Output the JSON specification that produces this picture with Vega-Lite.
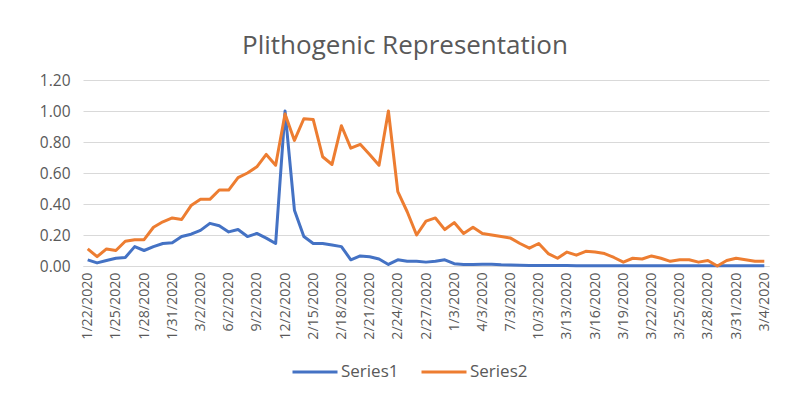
{
  "$schema": "https://vega.github.io/schema/vega-lite/v6.json",
  "width": 686,
  "height": 186,
  "autosize": {"type": "none"},
  "padding": {"left": 83, "top": 80, "right": 31, "bottom": 147},
  "background": "white",
  "title": {"text": "Plithogenic Representation", "fontSize": 26, "font": "Open Sans", "fontWeight": "normal", "color": "#595959", "offset": 14, "anchor": "middle", "dx": -21},
  "data": {"values": [
    {"date": "1/22/2020", "Series1": 0.04, "Series2": 0.11},
    {"date": "1/23/2020", "Series1": 0.02, "Series2": 0.06},
    {"date": "1/24/2020", "Series1": 0.035, "Series2": 0.11},
    {"date": "1/25/2020", "Series1": 0.05, "Series2": 0.10},
    {"date": "1/26/2020", "Series1": 0.055, "Series2": 0.16},
    {"date": "1/27/2020", "Series1": 0.125, "Series2": 0.17},
    {"date": "1/28/2020", "Series1": 0.10, "Series2": 0.17},
    {"date": "1/29/2020", "Series1": 0.125, "Series2": 0.25},
    {"date": "1/30/2020", "Series1": 0.145, "Series2": 0.285},
    {"date": "1/31/2020", "Series1": 0.15, "Series2": 0.31},
    {"date": "1/2/2020", "Series1": 0.19, "Series2": 0.30},
    {"date": "2/2/2020", "Series1": 0.205, "Series2": 0.39},
    {"date": "3/2/2020", "Series1": 0.23, "Series2": 0.43},
    {"date": "4/2/2020", "Series1": 0.275, "Series2": 0.43},
    {"date": "5/2/2020", "Series1": 0.26, "Series2": 0.49},
    {"date": "6/2/2020", "Series1": 0.22, "Series2": 0.49},
    {"date": "7/2/2020", "Series1": 0.235, "Series2": 0.57},
    {"date": "8/2/2020", "Series1": 0.19, "Series2": 0.60},
    {"date": "9/2/2020", "Series1": 0.21, "Series2": 0.64},
    {"date": "10/2/2020", "Series1": 0.18, "Series2": 0.72},
    {"date": "11/2/2020", "Series1": 0.145, "Series2": 0.65},
    {"date": "12/2/2020", "Series1": 1.00, "Series2": 0.98},
    {"date": "2/13/2020", "Series1": 0.36, "Series2": 0.81},
    {"date": "2/14/2020", "Series1": 0.19, "Series2": 0.95},
    {"date": "2/15/2020", "Series1": 0.145, "Series2": 0.945},
    {"date": "2/16/2020", "Series1": 0.145, "Series2": 0.705},
    {"date": "2/17/2020", "Series1": 0.135, "Series2": 0.655},
    {"date": "2/18/2020", "Series1": 0.125, "Series2": 0.905},
    {"date": "2/19/2020", "Series1": 0.04, "Series2": 0.76},
    {"date": "2/20/2020", "Series1": 0.065, "Series2": 0.785},
    {"date": "2/21/2020", "Series1": 0.06, "Series2": 0.72},
    {"date": "2/22/2020", "Series1": 0.045, "Series2": 0.65},
    {"date": "2/23/2020", "Series1": 0.01, "Series2": 1.00},
    {"date": "2/24/2020", "Series1": 0.04, "Series2": 0.48},
    {"date": "2/25/2020", "Series1": 0.03, "Series2": 0.35},
    {"date": "2/26/2020", "Series1": 0.03, "Series2": 0.20},
    {"date": "2/27/2020", "Series1": 0.025, "Series2": 0.29},
    {"date": "2/28/2020", "Series1": 0.03, "Series2": 0.31},
    {"date": "2/29/2020", "Series1": 0.04, "Series2": 0.235},
    {"date": "1/3/2020", "Series1": 0.015, "Series2": 0.28},
    {"date": "2/3/2020", "Series1": 0.01, "Series2": 0.21},
    {"date": "3/3/2020", "Series1": 0.01, "Series2": 0.25},
    {"date": "4/3/2020", "Series1": 0.012, "Series2": 0.21},
    {"date": "5/3/2020", "Series1": 0.012, "Series2": 0.20},
    {"date": "6/3/2020", "Series1": 0.008, "Series2": 0.19},
    {"date": "7/3/2020", "Series1": 0.006, "Series2": 0.18},
    {"date": "8/3/2020", "Series1": 0.005, "Series2": 0.145},
    {"date": "9/3/2020", "Series1": 0.004, "Series2": 0.115},
    {"date": "10/3/2020", "Series1": 0.004, "Series2": 0.145},
    {"date": "11/3/2020", "Series1": 0.003, "Series2": 0.08},
    {"date": "12/3/2020", "Series1": 0.003, "Series2": 0.05},
    {"date": "3/13/2020", "Series1": 0.003, "Series2": 0.09},
    {"date": "3/14/2020", "Series1": 0.002, "Series2": 0.07},
    {"date": "3/15/2020", "Series1": 0.002, "Series2": 0.095},
    {"date": "3/16/2020", "Series1": 0.002, "Series2": 0.09},
    {"date": "3/17/2020", "Series1": 0.002, "Series2": 0.08},
    {"date": "3/18/2020", "Series1": 0.002, "Series2": 0.055},
    {"date": "3/19/2020", "Series1": 0.002, "Series2": 0.025},
    {"date": "3/20/2020", "Series1": 0.001, "Series2": 0.05},
    {"date": "3/21/2020", "Series1": 0.001, "Series2": 0.045},
    {"date": "3/22/2020", "Series1": 0.001, "Series2": 0.065},
    {"date": "3/23/2020", "Series1": 0.001, "Series2": 0.05},
    {"date": "3/24/2020", "Series1": 0.001, "Series2": 0.03},
    {"date": "3/25/2020", "Series1": 0.001, "Series2": 0.04},
    {"date": "3/26/2020", "Series1": 0.001, "Series2": 0.04},
    {"date": "3/27/2020", "Series1": 0.001, "Series2": 0.025},
    {"date": "3/28/2020", "Series1": 0.001, "Series2": 0.035},
    {"date": "3/29/2020", "Series1": 0.001, "Series2": 0.0},
    {"date": "3/30/2020", "Series1": 0.001, "Series2": 0.035},
    {"date": "3/31/2020", "Series1": 0.001, "Series2": 0.05},
    {"date": "1/4/2020", "Series1": 0.001, "Series2": 0.04},
    {"date": "2/4/2020", "Series1": 0.001, "Series2": 0.03},
    {"date": "3/4/2020", "Series1": 0.001, "Series2": 0.03}
  ]},
  "transform": [{"fold": ["Series1", "Series2"], "as": ["series", "value"]}],
  "mark": {"type": "line", "strokeWidth": 3, "strokeJoin": "round"},
  "encoding": {
    "x": {
      "field": "date", "type": "nominal", "sort": null,
      "scale": {"type": "point", "padding": 0.5},
      "axis": {
        "title": null,
        "values": ["1/22/2020", "1/25/2020", "1/28/2020", "1/31/2020", "3/2/2020", "6/2/2020", "9/2/2020", "12/2/2020", "2/15/2020", "2/18/2020", "2/21/2020", "2/24/2020", "2/27/2020", "1/3/2020", "4/3/2020", "7/3/2020", "10/3/2020", "3/13/2020", "3/16/2020", "3/19/2020", "3/22/2020", "3/25/2020", "3/28/2020", "3/31/2020", "3/4/2020"],
        "labelAngle": -90, "labelFontSize": 14.2, "labelColor": "#595959", "labelFont": "Open Sans",
        "ticks": false, "domainColor": "#d9d9d9", "domainWidth": 1, "labelPadding": 6, "grid": false
      }
    },
    "y": {
      "field": "value", "type": "quantitative",
      "scale": {"domain": [0, 1.2], "nice": false},
      "axis": {
        "title": null, "values": [0, 0.2, 0.4, 0.6, 0.8, 1.0, 1.2], "format": ".2f",
        "labelFontSize": 15.5, "labelColor": "#595959", "labelFont": "Open Sans",
        "ticks": false, "domain": false, "gridColor": "#d9d9d9", "labelPadding": 13
      }
    },
    "color": {
      "field": "series", "type": "nominal",
      "scale": {"domain": ["Series1", "Series2"], "range": ["#4472C4", "#ED7D31"]},
      "legend": {
        "title": null, "orient": "none", "legendX": 208, "legendY": 268, "direction": "horizontal",
        "symbolType": "stroke", "symbolStrokeWidth": 3, "symbolSize": 2025,
        "labelFontSize": 17, "labelColor": "#595959", "labelFont": "Open Sans",
        "columnPadding": 16, "labelOffset": 2
      }
    }
  },
  "config": {"view": {"stroke": null}}
}
